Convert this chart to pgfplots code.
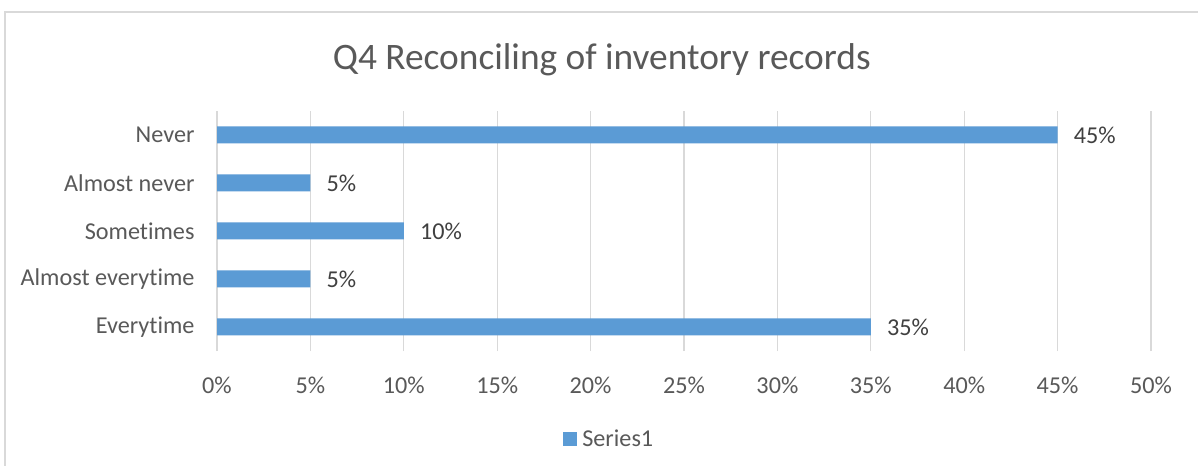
\documentclass[border=0pt]{standalone}
\usepackage{pgfplots}
\pgfplotsset{compat=1.18}
\usepackage{fontspec}
\setmainfont[Ligatures=NoCommon]{Carlito}
\definecolor{barblue}{HTML}{5B9BD5}
\definecolor{txtgray}{HTML}{595959}
\definecolor{lblgray}{HTML}{404040}
\definecolor{gridgray}{HTML}{D9D9D9}
\begin{document}
\begin{tikzpicture}
\path[use as bounding box] (0,0) rectangle (1198bp,466bp);
\fill[white] (0,0) rectangle (1198bp,466bp);
\draw[gridgray, line width=1.5bp] (5bp,0) -- (5bp,454bp) -- (1198bp,454bp);
\begin{axis}[
  at={(217bp,115bp)}, anchor=south west,
  scale only axis, width=934bp, height=240bp,
  xbar, bar width=17bp,
  xmin=0, xmax=50, ymin=-0.5, ymax=4.5,
  xtick={0,5,...,50},
  ytick={0,1,2,3,4},
  yticklabels={Everytime,Almost everytime,Sometimes,Almost never,Never},
  xticklabel={\pgfmathprintnumber{\tick}\%},
  /pgf/number format/assume math mode=true,
  xmajorgrids, grid style={gridgray, line width=1.2bp},
  axis line style={draw=none},
  major tick length=0pt,
  tick label style={font=\fontsize{24.3}{29}\selectfont, text=txtgray},
  xticklabel style={yshift=-22bp},
  yticklabel style={xshift=-19bp},
  nodes near coords={\pgfmathprintnumber{\pgfplotspointmeta}\%},
  nodes near coords style={anchor=west, inner sep=0pt, xshift=16bp, font=\fontsize{24.3}{29}\selectfont, text=lblgray},
  point meta=x,
  title={Q4 Reconciling of inventory records},
  title style={at={(0.412,1.19)}, anchor=center, font=\fontsize{37.5}{44}\selectfont, text=txtgray},
  legend style={at={(0.42,-0.365)}, anchor=center, draw=none, fill=none, font=\fontsize{24.3}{29}\selectfont, text=txtgray, inner sep=0pt, /tikz/every even column/.append style={column sep=0pt}},
  legend image code/.code={\fill[barblue] (0bp,-7bp) rectangle (14bp,7bp);},
  legend cell align=left,
]
\addplot[fill=barblue, draw=none] coordinates {(35,0) (5,1) (10,2) (5,3) (45,4)};
\addlegendentry{\hspace{3bp}Series1}
\end{axis}
\end{tikzpicture}
\end{document}
